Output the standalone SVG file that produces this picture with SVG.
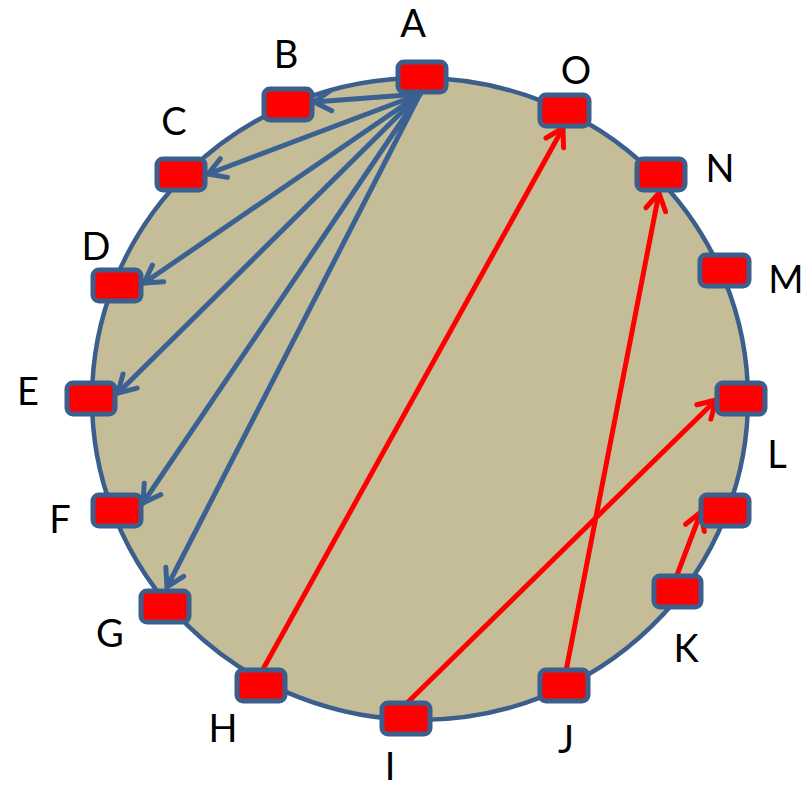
<svg xmlns="http://www.w3.org/2000/svg" width="806" height="790" viewBox="0 0 806 790">
<style>
.ring{fill:#C4BD97;stroke:#3B5E8C;stroke-width:4.5}
.box{fill:#FF0000;stroke:#3B5E8C;stroke-width:5}
.lbl{font-family:Lato,"Open Sans","Liberation Sans",sans-serif;font-size:38px;fill:#000;text-anchor:middle}
.blue{stroke:#3B6192;stroke-width:5;fill:none;stroke-linecap:round}
.red{stroke:#FF0000;stroke-width:5;fill:none;stroke-linecap:round}
</style>
<defs>
<marker id="hb" markerUnits="userSpaceOnUse" markerWidth="30" markerHeight="30" viewBox="-22 -15 26 30" refX="0" refY="0" orient="auto">
<path d="M-17,-10 L0,0 L-17,10" fill="none" stroke="#3B6192" stroke-width="5" stroke-linecap="round" stroke-linejoin="round"/>
</marker>
<marker id="hr" markerUnits="userSpaceOnUse" markerWidth="30" markerHeight="30" viewBox="-22 -15 26 30" refX="0" refY="0" orient="auto">
<path d="M-17,-10 L0,0 L-17,10" fill="none" stroke="#FF0000" stroke-width="5" stroke-linecap="round" stroke-linejoin="round"/>
</marker>
</defs>
<ellipse class="ring" cx="420" cy="399" rx="328" ry="321"/>
<g id="connectors">
<line class="blue" x1="420" y1="94" x2="314" y2="102" marker-end="url(#hb)"/>
<line class="blue" x1="420" y1="94" x2="208" y2="174" marker-end="url(#hb)"/>
<line class="blue" x1="420" y1="94" x2="144" y2="283" marker-end="url(#hb)"/>
<line class="blue" x1="420" y1="94" x2="118" y2="393" marker-end="url(#hb)"/>
<line class="blue" x1="420" y1="94" x2="143" y2="503" marker-end="url(#hb)"/>
<line class="blue" x1="420" y1="94" x2="167" y2="587" marker-end="url(#hb)"/>
<line class="red" x1="262" y1="671" x2="563" y2="128" marker-end="url(#hr)"/>
<line class="red" x1="407" y1="703" x2="716" y2="400" marker-end="url(#hr)"/>
<line class="red" x1="566" y1="671" x2="659" y2="193" marker-end="url(#hr)"/>
<line class="red" x1="677" y1="575" x2="701" y2="512" marker-end="url(#hr)"/>
</g>
<g id="A"><rect class="box" x="398" y="62" width="48" height="30" rx="6"/><text class="lbl" x="413" y="37">A</text></g>
<g id="B"><rect class="box" x="264" y="89" width="48" height="31" rx="6"/><text class="lbl" x="286" y="68">B</text></g>
<g id="C"><rect class="box" x="157" y="159" width="48" height="31" rx="6"/><text class="lbl" x="174" y="135">C</text></g>
<g id="D"><rect class="box" x="93" y="270" width="48" height="31" rx="6"/><text class="lbl" x="96" y="260">D</text></g>
<g id="E"><rect class="box" x="67" y="383" width="48" height="31" rx="6"/><text class="lbl" x="28" y="405">E</text></g>
<g id="F"><rect class="box" x="93" y="495" width="48" height="31" rx="6"/><text class="lbl" x="60" y="533">F</text></g>
<g id="G"><rect class="box" x="141" y="591" width="48" height="31" rx="6"/><text class="lbl" x="110" y="647">G</text></g>
<g id="H"><rect class="box" x="237" y="670" width="48" height="31" rx="6"/><text class="lbl" x="223" y="742">H</text></g>
<g id="I"><rect class="box" x="382" y="703" width="48" height="31" rx="6"/><text class="lbl" x="390" y="780">I</text></g>
<g id="J"><rect class="box" x="540" y="670" width="48" height="31" rx="6"/><text class="lbl" x="566" y="753">J</text></g>
<g id="K"><rect class="box" x="654" y="576" width="47" height="31" rx="6"/><text class="lbl" x="686" y="662">K</text></g>
<g id="node-unlabeled"><rect class="box" x="701" y="495" width="48" height="31" rx="6"/></g>
<g id="L"><rect class="box" x="717" y="383" width="48" height="31" rx="6"/><text class="lbl" x="777" y="468">L</text></g>
<g id="M"><rect class="box" x="700" y="255" width="49" height="31" rx="6"/><text class="lbl" x="786" y="293">M</text></g>
<g id="N"><rect class="box" x="637" y="159" width="48" height="31" rx="6"/><text class="lbl" x="720" y="182">N</text></g>
<g id="O"><rect class="box" x="540" y="95" width="49" height="31" rx="6"/><text class="lbl" x="576" y="84">O</text></g>
</svg>
